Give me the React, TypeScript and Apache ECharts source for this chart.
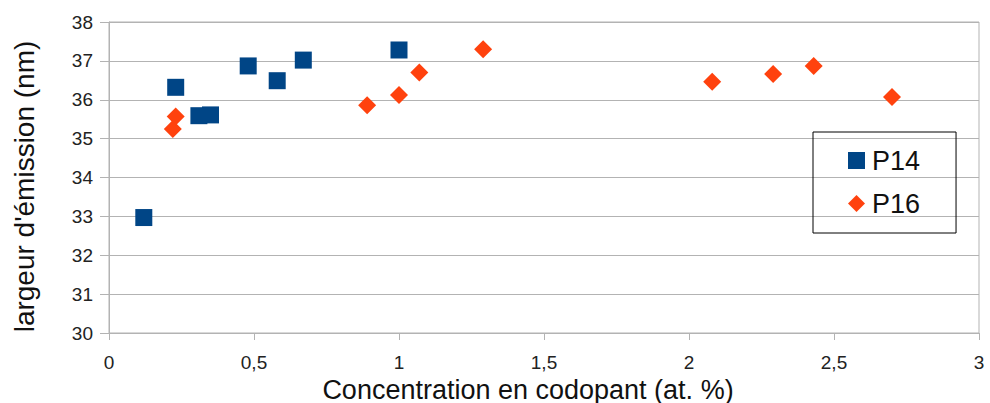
import React, { useEffect, useRef } from "react";
import * as echarts from "echarts";

const seriesNames = ["P14", "P16"];
const p14: [number, number][] = [
  [0.12, 32.97], [0.23, 36.32], [0.31, 35.59], [0.35, 35.61],
  [0.48, 36.87], [0.58, 36.49], [0.67, 37.02], [1.0, 37.28],
];
const p16: [number, number][] = [
  [0.22, 35.25], [0.23, 35.57], [0.89, 35.86], [1.0, 36.12], [1.07, 36.70],
  [1.29, 37.30], [2.08, 36.46], [2.29, 36.66], [2.43, 36.87], [2.7, 36.07],
];
const xTitle = "Concentration en codopant (at. %)";
const yTitle = "largeur d'émission (nm)";

const FONT = "'Liberation Sans', Arial, sans-serif";

export default function App() {
  const ref = useRef<HTMLDivElement>(null);
  useEffect(() => {
    if (!ref.current) return;
    const chart = echarts.init(ref.current, undefined, { renderer: "svg" });
    chart.setOption({
      animation: false,
      backgroundColor: "#ffffff",
      textStyle: { fontFamily: FONT },
      grid: {
        left: 109, right: 11, top: 22, bottom: 70,
        containLabel: false,
        outerBoundsMode: "none",
        show: true, borderColor: "#b3b3b3", borderWidth: 1,
      },
      legend: {
        orient: "vertical",
        left: 813, top: 132,
        padding: [15, 36, 16, 35],
        borderColor: "#000000", borderWidth: 1,
        itemGap: 16, itemWidth: 17, itemHeight: 17,
        textStyle: { fontSize: 27, color: "#111", fontFamily: FONT, padding: [0, 0, 0, 2] },
        data: [
          { name: seriesNames[0], icon: "rect" },
          { name: seriesNames[1], icon: "diamond" },
        ],
      },
      xAxis: {
        type: "value", min: 0, max: 3, interval: 0.5,
        name: xTitle, nameLocation: "middle", nameGap: 36,
        nameTextStyle: {
          fontSize: 27, lineHeight: 27, color: "#111", fontFamily: FONT,
          padding: [0, 32, 0, 0],
        },
        axisLine: { show: true, onZero: false, lineStyle: { color: "#b3b3b3" } },
        axisTick: { show: true, length: 7, lineStyle: { color: "#b3b3b3" } },
        splitLine: { show: false },
        axisLabel: {
          fontSize: 19, color: "#222", margin: 20, fontFamily: FONT,
          formatter: (v: number) => String(v).replace(".", ","),
        },
      },
      yAxis: {
        type: "value", min: 30, max: 38, interval: 1,
        name: yTitle, nameLocation: "middle", nameGap: 71,
        nameTextStyle: { fontSize: 28, color: "#111", fontFamily: FONT, padding: [0, 18, 0, 0] },
        axisLine: { show: true, lineStyle: { color: "#b3b3b3" } },
        axisTick: { show: true, length: 9, lineStyle: { color: "#b3b3b3" } },
        splitLine: { show: true, lineStyle: { color: "#b3b3b3", width: 1 } },
        axisLabel: { fontSize: 19, color: "#222", margin: 16, fontFamily: FONT },
      },
      series: [
        {
          name: seriesNames[0], type: "scatter", data: p14,
          symbol: "rect", symbolSize: 17,
          itemStyle: { color: "#004586", opacity: 1 },
        },
        {
          name: seriesNames[1], type: "scatter", data: p16,
          symbol: "diamond", symbolSize: 18,
          itemStyle: { color: "#ff420e", opacity: 1 },
        },
      ],
    });
    return () => chart.dispose();
  }, []);
  return (
    <div
      ref={ref}
      style={{ position: "absolute", left: 0, top: 0, width: 990, height: 403 }}
    />
  );
}
